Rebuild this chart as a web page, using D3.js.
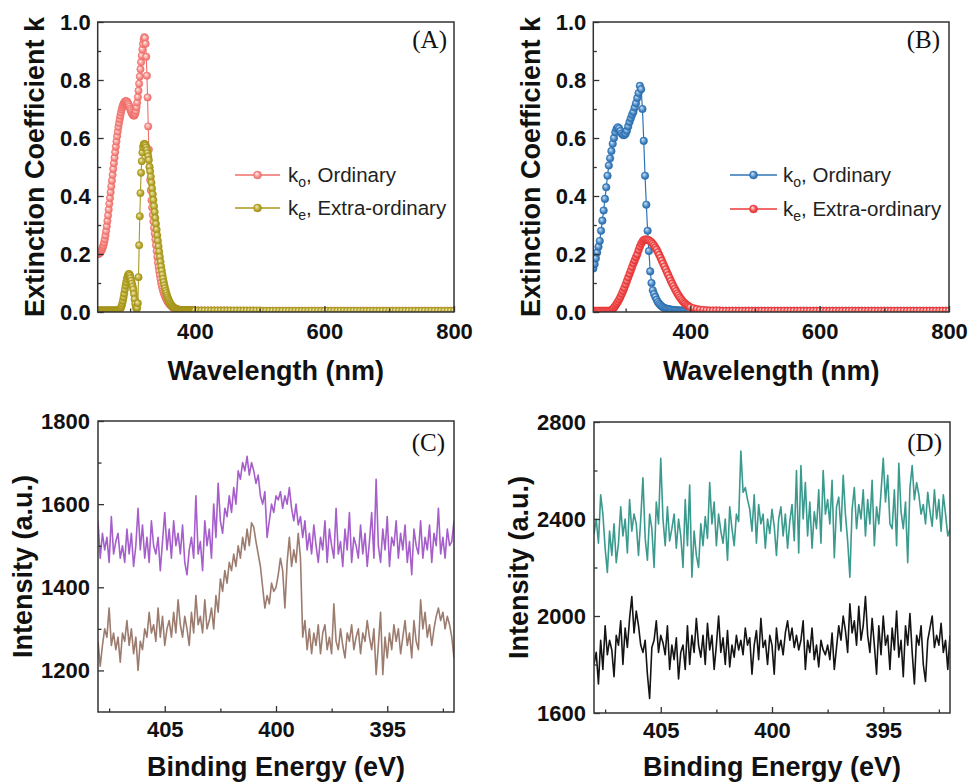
<!DOCTYPE html>
<html lang="en">
<head>
  <meta charset="UTF-8">
  <title>Extinction coefficient and XPS N 1s panels</title>
  <script src="https://cdn.jsdelivr.net/npm/d3@7"></script>
  <style>
    body { margin: 0; background: #fff; }
    svg text { font-family: "Liberation Sans", Arial, sans-serif; fill: #111; }
    .tick text { font-weight: bold; font-size: 22px; }
    .tick line { stroke: #333; stroke-width: 1.3px; }
    .frame { fill: none; stroke: #333; stroke-width: 1.5px; }
    svg text.title { font-weight: bold; font-size: 27px; }
    svg text.tag { font-family: "Liberation Serif", "Times New Roman", serif; font-size: 25px; }
    svg text.leg { font-size: 20.5px; fill: #222; }
  </style>
</head>
<body>
<svg id="fig" width="968" height="783"></svg>
<script>
// ---- (A) k, 250-400 nm every 1 nm, then tail 405-800 every 5 nm
var wlA = d3.range(250, 401, 1);
var koA = [
  0.200, 0.200, 0.201, 0.203, 0.206, 0.209, 0.213, 0.218, 0.224, 0.231,
  0.240, 0.251, 0.264, 0.279, 0.296, 0.314, 0.333, 0.353, 0.373, 0.393,
  0.413, 0.433, 0.453, 0.473, 0.493, 0.513, 0.532, 0.551, 0.570, 0.588,
  0.606, 0.622, 0.638, 0.652, 0.665, 0.677, 0.688, 0.698, 0.706, 0.713,
  0.718, 0.722, 0.725, 0.727, 0.727, 0.726, 0.723, 0.719, 0.714, 0.708,
  0.701, 0.695, 0.689, 0.684, 0.680, 0.678, 0.677, 0.679, 0.684, 0.693,
  0.706, 0.722, 0.741, 0.763, 0.787, 0.812, 0.837, 0.861, 0.884, 0.905,
  0.924, 0.939, 0.948, 0.945, 0.925, 0.880, 0.815, 0.740, 0.640, 0.560,
  0.500, 0.455, 0.420, 0.385, 0.360, 0.335, 0.312, 0.290, 0.270, 0.250,
  0.230, 0.210, 0.190, 0.170, 0.155, 0.140, 0.126, 0.113, 0.100, 0.090,
  0.081, 0.073, 0.066, 0.060, 0.054, 0.049, 0.045, 0.040, 0.036, 0.033,
  0.030, 0.027, 0.024, 0.022, 0.020, 0.018, 0.016, 0.015, 0.013, 0.012,
  0.011, 0.010, 0.009, 0.009, 0.008, 0.008, 0.007, 0.007, 0.007, 0.006,
  0.006, 0.006, 0.006, 0.006, 0.005, 0.005, 0.005, 0.005, 0.005, 0.005,
  0.005, 0.005, 0.005, 0.005, 0.005, 0.005, 0.005, 0.005, 0.005, 0.005, 0.005
];
var keA = [
  0.005, 0.005, 0.005, 0.005, 0.005, 0.005, 0.005, 0.005, 0.005, 0.005,
  0.005, 0.005, 0.005, 0.005, 0.005, 0.005, 0.005, 0.005, 0.005, 0.005,
  0.005, 0.005, 0.005, 0.005, 0.005, 0.005, 0.005, 0.005, 0.005, 0.005,
  0.005, 0.005, 0.005, 0.006, 0.008, 0.011, 0.015, 0.021, 0.029, 0.039,
  0.051, 0.064, 0.078, 0.091, 0.103, 0.114, 0.122, 0.128, 0.131, 0.130,
  0.125, 0.117, 0.108, 0.098, 0.088, 0.078, 0.062, 0.044, 0.028, 0.016,
  0.010, 0.014, 0.030, 0.120, 0.230, 0.330, 0.410, 0.480, 0.520, 0.550,
  0.568, 0.578, 0.580, 0.578, 0.574, 0.567, 0.558, 0.548, 0.537, 0.524,
  0.500, 0.485, 0.466, 0.446, 0.426, 0.406, 0.386, 0.365, 0.345, 0.324,
  0.304, 0.284, 0.264, 0.245, 0.226, 0.208, 0.190, 0.173, 0.157, 0.142,
  0.128, 0.115, 0.103, 0.092, 0.082, 0.073, 0.065, 0.057, 0.050, 0.044,
  0.039, 0.034, 0.030, 0.026, 0.023, 0.020, 0.018, 0.016, 0.014, 0.012,
  0.011, 0.010, 0.009, 0.008, 0.008, 0.007, 0.007, 0.006, 0.006, 0.006,
  0.005, 0.005, 0.005, 0.005, 0.005, 0.005, 0.005, 0.005, 0.005, 0.005,
  0.005, 0.005, 0.005, 0.005, 0.005, 0.005, 0.005, 0.005, 0.005, 0.005, 0.005
];

// ---- (B) k, 250-400 nm every 2 nm
var wlB = d3.range(250, 401, 2);
var koB = [
  0.150, 0.165, 0.185, 0.205, 0.225, 0.245, 0.280, 0.315, 0.350, 0.390,
  0.430, 0.470, 0.505, 0.530, 0.555, 0.580, 0.600, 0.620, 0.632, 0.637,
  0.633, 0.624, 0.615, 0.610, 0.610, 0.615, 0.625, 0.640, 0.655, 0.668,
  0.680, 0.690, 0.705, 0.720, 0.738, 0.755, 0.780, 0.768, 0.700, 0.590,
  0.470, 0.370, 0.280, 0.210, 0.140, 0.100, 0.075, 0.062, 0.052, 0.042,
  0.034, 0.028, 0.023, 0.019, 0.016, 0.014, 0.012, 0.011, 0.010, 0.009,
  0.008, 0.007, 0.007, 0.006, 0.006, 0.006, 0.005, 0.005, 0.005, 0.005,
  0.005, 0.005, 0.004, 0.004, 0.004, 0.004
];
var keB = [
  0.004, 0.004, 0.004, 0.004, 0.004, 0.004, 0.004, 0.004, 0.004, 0.004,
  0.004, 0.004, 0.004, 0.004, 0.006, 0.010, 0.015, 0.021, 0.028, 0.035,
  0.043, 0.052, 0.062, 0.072, 0.083, 0.095, 0.107, 0.119, 0.131, 0.143,
  0.155, 0.167, 0.178, 0.189, 0.199, 0.213, 0.225, 0.235, 0.243, 0.248,
  0.250, 0.250, 0.249, 0.247, 0.244, 0.240, 0.235, 0.229, 0.222, 0.215,
  0.206, 0.197, 0.187, 0.177, 0.167, 0.157, 0.147, 0.137, 0.127, 0.117,
  0.107, 0.098, 0.089, 0.080, 0.072, 0.064, 0.057, 0.050, 0.044, 0.038,
  0.033, 0.029, 0.025, 0.022, 0.019, 0.016
];

// ---- flat tails 405-800 nm every 5 nm
var wlTail = d3.range(405, 801, 5);
var koATail = [
  0.005, 0.005, 0.005, 0.005, 0.005, 0.005, 0.005, 0.005, 0.005, 0.005,
  0.004, 0.004, 0.004, 0.004, 0.004, 0.004, 0.004, 0.004, 0.004, 0.004,
  0.004, 0.004, 0.004, 0.004, 0.004, 0.004, 0.004, 0.004, 0.004, 0.004,
  0.004, 0.004, 0.004, 0.004, 0.004, 0.004, 0.004, 0.004, 0.004, 0.004,
  0.004, 0.004, 0.004, 0.004, 0.004, 0.004, 0.004, 0.004, 0.004, 0.004,
  0.004, 0.004, 0.004, 0.004, 0.004, 0.004, 0.004, 0.004, 0.004, 0.004,
  0.004, 0.004, 0.004, 0.004, 0.004, 0.004, 0.004, 0.004, 0.004, 0.004,
  0.004, 0.004, 0.004, 0.004, 0.004, 0.004, 0.004, 0.004, 0.004, 0.004
];
var keATail = [
  0.005, 0.005, 0.005, 0.005, 0.005, 0.005, 0.005, 0.005, 0.005, 0.005,
  0.005, 0.005, 0.005, 0.005, 0.005, 0.005, 0.005, 0.005, 0.005, 0.005,
  0.004, 0.004, 0.004, 0.004, 0.004, 0.004, 0.004, 0.004, 0.004, 0.004,
  0.004, 0.004, 0.004, 0.004, 0.004, 0.004, 0.004, 0.004, 0.004, 0.004,
  0.004, 0.004, 0.004, 0.004, 0.004, 0.004, 0.004, 0.004, 0.004, 0.004,
  0.004, 0.004, 0.004, 0.004, 0.004, 0.004, 0.004, 0.004, 0.004, 0.004,
  0.004, 0.004, 0.004, 0.004, 0.004, 0.004, 0.004, 0.004, 0.004, 0.004,
  0.004, 0.004, 0.004, 0.004, 0.004, 0.004, 0.004, 0.004, 0.004, 0.004
];
var koBTail = [
  0.004, 0.004, 0.004, 0.004, 0.004, 0.004, 0.004, 0.004, 0.004, 0.004,
  0.004, 0.004, 0.004, 0.004, 0.004, 0.004, 0.004, 0.004, 0.004, 0.004,
  0.004, 0.004, 0.004, 0.004, 0.004, 0.004, 0.004, 0.004, 0.004, 0.004,
  0.004, 0.004, 0.004, 0.004, 0.004, 0.004, 0.004, 0.004, 0.004, 0.004,
  0.004, 0.004, 0.004, 0.004, 0.004, 0.004, 0.004, 0.004, 0.004, 0.004,
  0.004, 0.004, 0.004, 0.004, 0.004, 0.004, 0.004, 0.004, 0.004, 0.004,
  0.004, 0.004, 0.004, 0.004, 0.004, 0.004, 0.004, 0.004, 0.004, 0.004,
  0.004, 0.004, 0.004, 0.004, 0.004, 0.004, 0.004, 0.004, 0.004, 0.004
];
var keBTail = [
  0.013, 0.010, 0.008, 0.007, 0.006, 0.005, 0.005, 0.005, 0.005, 0.004,
  0.004, 0.004, 0.004, 0.004, 0.004, 0.004, 0.004, 0.004, 0.004, 0.004,
  0.004, 0.004, 0.004, 0.004, 0.004, 0.004, 0.004, 0.004, 0.004, 0.004,
  0.004, 0.004, 0.004, 0.004, 0.004, 0.004, 0.004, 0.004, 0.004, 0.004,
  0.004, 0.004, 0.004, 0.004, 0.004, 0.004, 0.004, 0.004, 0.004, 0.004,
  0.004, 0.004, 0.004, 0.004, 0.004, 0.004, 0.004, 0.004, 0.004, 0.004,
  0.004, 0.004, 0.004, 0.004, 0.004, 0.004, 0.004, 0.004, 0.004, 0.004,
  0.004, 0.004, 0.004, 0.004, 0.004, 0.004, 0.004, 0.004, 0.004, 0.004
];

// ---- (C)/(D) XPS, 408.0 -> 392.0 eV every 0.1 eV
var beXps = d3.range(0, 161).map(function(i) { return +(408 - i * 0.1).toFixed(1); });
var purpleC = [
  1560, 1470, 1530, 1490, 1520, 1460, 1570, 1480, 1510, 1530,
  1470, 1500, 1460, 1540, 1480, 1530, 1450, 1500, 1590, 1490,
  1550, 1470, 1520, 1460, 1560, 1500, 1480, 1520, 1440, 1510,
  1580, 1490, 1540, 1470, 1560, 1500, 1530, 1480, 1550, 1460,
  1430, 1490, 1520, 1470, 1620, 1480, 1510, 1440, 1560, 1500,
  1540, 1470, 1600, 1520, 1650, 1560, 1530, 1590, 1570, 1620,
  1580, 1640, 1600, 1680, 1660, 1700, 1680, 1715, 1670, 1700,
  1680, 1650, 1670, 1620, 1600, 1630, 1520, 1560, 1600, 1580,
  1620, 1610, 1630, 1590, 1620, 1600, 1640, 1590, 1560, 1600,
  1550, 1570, 1520, 1560, 1490, 1530, 1480, 1550, 1500, 1460,
  1520, 1490, 1560, 1460, 1540, 1500, 1470, 1590, 1480, 1510,
  1450, 1540, 1490, 1580, 1460, 1520, 1500, 1470, 1550, 1480,
  1530, 1450, 1510, 1580, 1470, 1660, 1500, 1460, 1540, 1490,
  1570, 1450, 1520, 1500, 1560, 1470, 1530, 1490, 1550, 1460,
  1510, 1430, 1540, 1500, 1480, 1560, 1470, 1520, 1490, 1550,
  1460, 1530, 1500, 1590, 1480, 1520, 1470, 1540, 1500, 1510, 1560
];
var brownC = [
  1270, 1210, 1260, 1300, 1280, 1350, 1260, 1290, 1250, 1280,
  1220, 1290, 1270, 1320, 1260, 1300, 1240, 1280, 1200, 1270,
  1250, 1300, 1280, 1340, 1290, 1310, 1270, 1350, 1280, 1330,
  1260, 1300, 1320, 1280, 1340, 1290, 1370, 1310, 1280, 1330,
  1300, 1260, 1340, 1290, 1380, 1310, 1330, 1290, 1370, 1300,
  1320, 1350, 1300, 1380, 1340, 1420, 1390, 1440, 1410, 1460,
  1440, 1480, 1450, 1500, 1470, 1520, 1490, 1540, 1500, 1555,
  1545, 1510, 1480, 1450, 1400, 1350, 1380, 1360, 1410, 1390,
  1400, 1430, 1470, 1440, 1350, 1460, 1520, 1450, 1490, 1460,
  1530, 1470, 1280, 1320, 1250, 1300, 1240, 1290, 1260, 1310,
  1240, 1290, 1310, 1250, 1280, 1240, 1360, 1270, 1250, 1300,
  1260, 1230, 1290, 1270, 1310, 1250, 1280, 1300, 1240, 1290,
  1270, 1320, 1280, 1250, 1300, 1190, 1260, 1340, 1190, 1280,
  1230, 1290, 1250, 1310, 1270, 1300, 1240, 1280, 1320, 1260,
  1290, 1230, 1320, 1270, 1250, 1370, 1300, 1340, 1280, 1310,
  1260, 1300, 1330, 1350, 1320, 1340, 1300, 1330, 1310, 1280, 1230
];
var tealD = [
  2340, 2400, 2300, 2500, 2420, 2280, 2180, 2350, 2250, 2380,
  2220, 2300, 2450, 2330, 2400, 2260, 2480, 2350, 2420, 2380,
  2250, 2400, 2570, 2320, 2230, 2420, 2360, 2200, 2470, 2380,
  2650, 2400, 2290, 2450, 2310, 2360, 2420, 2280, 2400, 2330,
  2200, 2480, 2290, 2540, 2160, 2350, 2250, 2200, 2380, 2290,
  2410, 2320, 2550, 2380, 2470, 2290, 2420, 2350, 2300, 2400,
  2230, 2450, 2360, 2290, 2420, 2390, 2680, 2510, 2530, 2480,
  2440, 2350, 2500, 2300, 2460, 2380, 2420, 2280, 2400, 2340,
  2440, 2370, 2250, 2400, 2450, 2330, 2420, 2280, 2390, 2460,
  2310, 2600, 2260, 2620, 2400, 2550, 2330, 2470, 2280, 2430,
  2360, 2520, 2300, 2600, 2420, 2480, 2380, 2560, 2240, 2450,
  2490, 2350, 2580, 2420, 2310, 2160, 2440, 2530, 2360, 2460,
  2400, 2520, 2330, 2480, 2380, 2560, 2290, 2450, 2380, 2510,
  2650, 2470, 2580, 2380, 2360, 2520, 2290, 2630, 2430, 2360,
  2470, 2220, 2530, 2620, 2480, 2550, 2500, 2420, 2460, 2380,
  2510, 2430, 2370, 2520, 2400, 2480, 2350, 2500, 2420, 2330, 2360
];
var blackD = [
  1800, 1850, 1720, 1900, 1780, 1960, 1840, 1900, 1860, 1750,
  1920, 1880, 1980, 1800, 1950, 1870, 1990, 2080, 1930, 2020,
  1960, 1880, 1850, 1900, 1760, 1660, 1870, 1900, 1980, 1850,
  1920, 1890, 1840, 1960, 1780, 1880, 1820, 1910, 1740, 1850,
  1880, 1780, 1960, 1800, 1920, 1850, 1990, 1880, 1830, 1920,
  1800, 1970, 1860, 1920, 1780, 1880, 2000, 1850, 1910, 1800,
  1940, 1790, 1880, 1830, 1920, 1860, 1900, 1840, 1950, 1880,
  1910, 1760, 1880, 1940, 1820, 1990, 1870, 1900, 1800, 1920,
  1880, 1760, 1950, 1860, 1900, 1840, 1930, 1980, 1900, 1950,
  1870, 1920, 1860, 1900, 1980, 1780, 1900, 1850, 1950, 1820,
  1880, 1790, 1900, 1860, 1840, 1880, 1820, 1930, 1780, 1870,
  1960, 1900, 2000, 1940, 1850, 2050, 1930, 1980, 1880, 2040,
  1900, 1960, 2080, 1920, 1850, 1990, 1880, 1760, 1960, 1840,
  2000, 1880, 1920, 1780, 1950, 1860, 2020, 1830, 1900, 1750,
  1960, 1880, 2010, 1850, 1720, 1920, 1880, 1960, 1800, 1730,
  1900, 1950, 2000, 1870, 1920, 1880, 1970, 1850, 1900, 1780, 1920
];

var svg = d3.select("#fig");
var defs = svg.append("defs");

// shaded "ball" markers like the original plotting software
function ball(id, light, base, edge) {
  var gr = defs.append("radialGradient").attr("id", id)
    .attr("cx", "50%").attr("cy", "50%").attr("r", "55%")
    .attr("fx", "35%").attr("fy", "32%");
  gr.append("stop").attr("offset", "0%").attr("stop-color", light);
  gr.append("stop").attr("offset", "65%").attr("stop-color", base);
  gr.append("stop").attr("offset", "100%").attr("stop-color", edge);
}
ball("ballSalmon", "#fff0ee", "#f58a85", "#e9625d");
ball("ballOlive", "#f3ecb6", "#b5a42a", "#978812");
ball("ballBlue", "#d4e6f7", "#3f82c2", "#245d97");
ball("ballRed", "#ffe0e0", "#f04848", "#d42a2a");

var panels = [
  {
    id: "A", box: {x0: 97.7, x1: 454, y0: 22, y1: 312},
    xDomain: [250, 800], yDomain: [0, 1],
    xMajor: [400, 600, 800], xMinor: [300, 500, 700],
    yMajor: [0, 0.2, 0.4, 0.6, 0.8, 1.0], yMinor: [0.1, 0.3, 0.5, 0.7, 0.9],
    xFmt: d3.format("d"), yFmt: d3.format(".1f"), xPad: 11, yPad: 7,
    xTitle: "Wavelength (nm)", yTitle: "Extinction Coefficient k",
    xTitleY: 380, yTitleX: 44, tag: "(A)", tagX: 447, tagY: 48,
    series: [
      {x: wlA.concat(wlTail), y: koA.concat(koATail), color: "#f06e6a", ball: "ballSalmon", r: 3.7, lw: 1.1},
      {x: wlA.concat(wlTail), y: keA.concat(keATail), color: "#a8981c", ball: "ballOlive", r: 3.7, lw: 1.1}
    ],
    legend: {x1: 235, x2: 280, tx: 288, ys: [175, 208]}
  },
  {
    id: "B", box: {x0: 593.3, x1: 949, y0: 22, y1: 312},
    xDomain: [250, 800], yDomain: [0, 1],
    xMajor: [400, 600, 800], xMinor: [300, 500, 700],
    yMajor: [0, 0.2, 0.4, 0.6, 0.8, 1.0], yMinor: [0.1, 0.3, 0.5, 0.7, 0.9],
    xFmt: d3.format("d"), yFmt: d3.format(".1f"), xPad: 11, yPad: 7,
    xTitle: "Wavelength (nm)", yTitle: "Extinction Coefficient k",
    xTitleY: 380, yTitleX: 540, tag: "(B)", tagX: 940, tagY: 48,
    series: [
      {x: wlB.concat(wlTail), y: koB.concat(koBTail), color: "#2f74b5", ball: "ballBlue", r: 3.8, lw: 1.2},
      {x: wlB.concat(wlTail), y: keB.concat(keBTail), color: "#ee3a3a", ball: "ballRed", r: 3.8, lw: 1.2}
    ],
    legend: {x1: 730, x2: 777, tx: 783, ys: [175, 209]}
  },
  {
    id: "C", box: {x0: 98, x1: 454, y0: 421, y1: 712},
    xDomain: [408, 392], yDomain: [1100, 1800],
    xMajor: [405, 400, 395], xMinor: [407.5, 402.5, 397.5, 392.5],
    yMajor: [1200, 1400, 1600, 1800], yMinor: [1300, 1500, 1700],
    xFmt: d3.format("d"), yFmt: d3.format("d"), xPad: 9.5, yPad: 8,
    xTitle: "Binding Energy (eV)", yTitle: "Intensity (a.u.)",
    xTitleY: 776, yTitleX: 32, tag: "(C)", tagX: 445, tagY: 451,
    series: [
      {x: beXps, y: purpleC, color: "#a65ecb", lw: 1.6},
      {x: beXps, y: brownC, color: "#9c7c6f", lw: 1.6}
    ]
  },
  {
    id: "D", box: {x0: 594, x1: 950, y0: 422, y1: 713},
    xDomain: [408, 392], yDomain: [1600, 2800],
    xMajor: [405, 400, 395], xMinor: [407.5, 402.5, 397.5, 392.5],
    yMajor: [1600, 2000, 2400, 2800], yMinor: [1800, 2200, 2600],
    xFmt: d3.format("d"), yFmt: d3.format("d"), xPad: 9.5, yPad: 8,
    xTitle: "Binding Energy (eV)", yTitle: "Intensity (a.u.)",
    xTitleY: 776, yTitleX: 528, tag: "(D)", tagX: 942, tagY: 451,
    series: [
      {x: beXps, y: tealD, color: "#3a9a8e", lw: 1.6},
      {x: beXps, y: blackD, color: "#141414", lw: 1.6}
    ]
  }
];

var legendParts = [
  {main: "k", sub: "o", rest: ", Ordinary"},
  {main: "k", sub: "e", rest: ", Extra-ordinary"}
];

panels.forEach(function(p) {
  var b = p.box;
  var x = d3.scaleLinear().domain(p.xDomain).range([b.x0, b.x1]);
  var y = d3.scaleLinear().domain(p.yDomain).range([b.y1, b.y0]);
  var g = svg.append("g");

  defs.append("clipPath").attr("id", "clip" + p.id)
    .append("rect").attr("x", b.x0).attr("y", b.y0)
    .attr("width", b.x1 - b.x0).attr("height", b.y1 - b.y0);

  var plot = g.append("g").attr("clip-path", "url(#clip" + p.id + ")");
  p.series.forEach(function(s) {
    var pts = s.x.map(function(v, i) { return [v, s.y[i]]; });
    var line = d3.line().x(function(d) { return x(d[0]); }).y(function(d) { return y(d[1]); });
    plot.append("path").datum(pts)
      .attr("d", line)
      .attr("fill", "none")
      .attr("stroke", s.color)
      .attr("stroke-width", s.lw)
      .attr("stroke-linejoin", "round");
    if (s.ball) {
      plot.append("g").selectAll("circle").data(pts).enter().append("circle")
        .attr("cx", function(d) { return x(d[0]); })
        .attr("cy", function(d) { return y(d[1]); })
        .attr("r", s.r)
        .attr("fill", "url(#" + s.ball + ")")
        .attr("stroke", s.color)
        .attr("stroke-width", 0.5);
    }
  });

  // ticks point inward; minor ticks are shorter and unlabeled
  var xMaj = g.append("g").attr("transform", "translate(0," + b.y1 + ")")
    .call(d3.axisBottom(x).tickValues(p.xMajor).tickSize(-6).tickPadding(p.xPad).tickFormat(p.xFmt));
  var xMin = g.append("g").attr("transform", "translate(0," + b.y1 + ")")
    .call(d3.axisBottom(x).tickValues(p.xMinor).tickSize(-3.5).tickFormat(""));
  var yMaj = g.append("g").attr("transform", "translate(" + b.x0 + ",0)")
    .call(d3.axisLeft(y).tickValues(p.yMajor).tickSize(-6).tickPadding(p.yPad).tickFormat(p.yFmt));
  var yMin = g.append("g").attr("transform", "translate(" + b.x0 + ",0)")
    .call(d3.axisLeft(y).tickValues(p.yMinor).tickSize(-3.5).tickFormat(""));
  [xMaj, xMin, yMaj, yMin].forEach(function(a) {
    a.select(".domain").remove();
    a.attr("font-family", null).attr("font-size", null);
  });

  g.append("rect").attr("class", "frame")
    .attr("x", b.x0).attr("y", b.y0)
    .attr("width", b.x1 - b.x0).attr("height", b.y1 - b.y0);

  g.append("text").attr("class", "title")
    .attr("x", (b.x0 + b.x1) / 2).attr("y", p.xTitleY)
    .attr("text-anchor", "middle").text(p.xTitle);
  g.append("text").attr("class", "title")
    .attr("transform", "translate(" + p.yTitleX + "," + (b.y0 + b.y1) / 2 + ") rotate(-90)")
    .attr("text-anchor", "middle").text(p.yTitle);
  g.append("text").attr("class", "tag")
    .attr("x", p.tagX).attr("y", p.tagY)
    .attr("text-anchor", "end").text(p.tag);

  if (p.legend) {
    var L = p.legend;
    p.series.forEach(function(s, i) {
      var ly = L.ys[i];
      g.append("line").attr("x1", L.x1).attr("x2", L.x2).attr("y1", ly).attr("y2", ly)
        .attr("stroke", s.color).attr("stroke-width", 1.4);
      g.append("circle").attr("cx", (L.x1 + L.x2) / 2).attr("cy", ly).attr("r", 4)
        .attr("fill", "url(#" + s.ball + ")").attr("stroke", s.color).attr("stroke-width", 0.5);
      var t = g.append("text").attr("class", "leg").attr("x", L.tx).attr("y", ly + 7);
      t.append("tspan").text(legendParts[i].main);
      t.append("tspan").attr("font-size", "14px").attr("dy", 5).text(legendParts[i].sub);
      t.append("tspan").attr("dy", -5).text(legendParts[i].rest);
    });
  }
});
</script>
</body>
</html>
